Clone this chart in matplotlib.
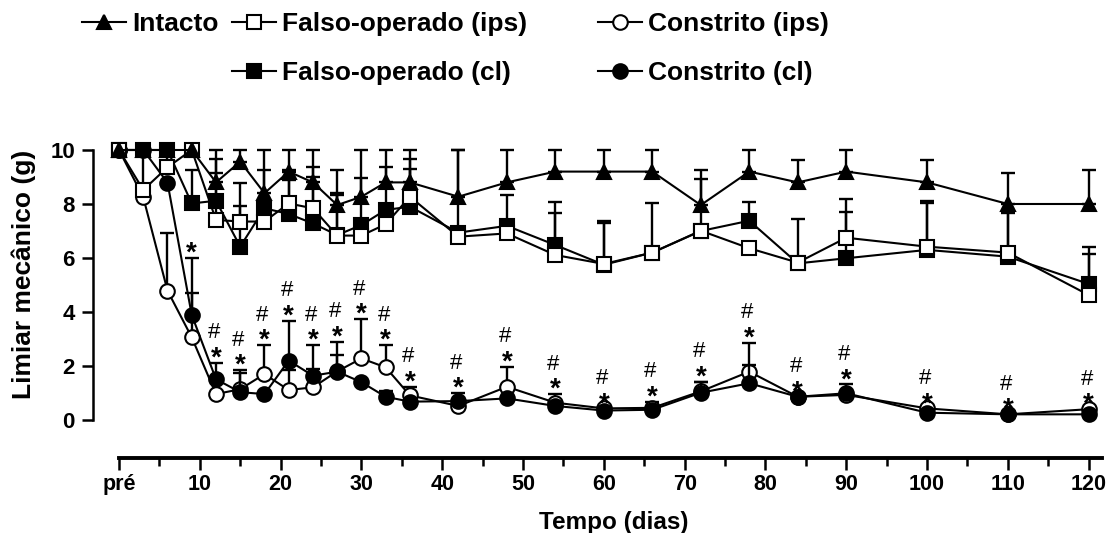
import matplotlib.pyplot as plt
import numpy as np

plt.rcParams['font.family'] = ['Liberation Sans', 'DejaVu Sans']
plt.rcParams['font.weight'] = 'bold'

# dias de avaliação (0 = pré)
dias = [0, 3, 6, 9, 12, 15, 18, 21, 24, 27, 30, 33, 36, 42, 48, 54, 60, 66, 72, 78, 84, 90, 100, 110, 120]
rotulos_x = ['pré', '10', '20', '30', '40', '50', '60', '70', '80', '90', '100', '110', '120']

# médias (g) e EPM (só a barra superior)
intacto = [10, 10, 10, 10, 8.8, 9.57, 8.4, 9.2, 8.8, 7.96, 8.27, 8.8, 8.8, 8.27, 8.8, 9.2, 9.2, 9.2, 7.96, 9.2, 8.8, 9.2, 8.8, 8.0, 8.0]
intacto_epm = [0, 0, 0, 0, 1.2, 0.43, 1.6, 0.8, 1.2, 1.3, 1.73, 1.2, 1.2, 1.73, 1.2, 0.8, 0.8, 0.8, 1.3, 0.8, 0.83, 0.8, 0.83, 1.13, 1.26]

falso_ips = [10, 8.52, 9.36, 10, 7.41, 7.35, 7.35, 8.02, 7.84, 6.83, 6.83, 7.25, 8.27, 6.79, 6.91, 6.11, 5.78, 6.2, 7.01, 6.36, 5.83, 6.75, 6.42, 6.2, 4.63]
falso_ips_epm = [0, 1.48, 0.64, 0, 2.24, 1.42, 0, 1.24, 1.54, 1.57, 0, 0, 1.38, 0, 0, 1.57, 1.59, 1.82, 1.92, 0, 1.6, 1.42, 1.7, 1.54, 1.52]

falso_cl = [10, 10, 10, 8.02, 8.12, 6.42, 7.84, 7.63, 7.28, 6.85, 7.22, 7.78, 7.9, 6.94, 7.19, 6.48, 5.75, 6.2, 7.0, 7.38, 5.8, 5.99, 6.3, 6.05, 5.04]
falso_cl_epm = [0, 0, 0, 1.24, 1.02, 1.51, 1.42, 1.26, 1.72, 1.48, 1.73, 1.58, 1.38, 3.06, 1.14, 1.61, 1.53, 0, 0, 0.71, 0, 1.73, 1.75, 1.63, 1.36]

constrito_ips = [10, 8.25, 4.79, 3.06, 0.96, 1.14, 1.70, 1.11, 1.21, 1.8, 2.28, 1.95, 0.91, 0.52, 1.23, 0.64, 0.43, 0.45, 1.06, 1.79, 0.86, 0.93, 0.43, 0.21, 0.40]
constrito_ips_epm = [0, 0, 2.15, 1.66, 0, 0.61, 1.08, 0.74, 0.69, 0.6, 1.46, 0.83, 0.32, 0, 0.75, 0.32, 0, 0.23, 0.36, 1.07, 0, 0, 0, 0, 0]

constrito_cl = [10, 10, 8.79, 3.89, 1.51, 1.03, 0.96, 2.2, 1.64, 1.79, 1.40, 0.86, 0.68, 0.70, 0.80, 0.52, 0.35, 0.38, 1.01, 1.36, 0.86, 0.99, 0.27, 0.21, 0.21]
constrito_cl_epm = [0, 0, 0, 2.1, 0.61, 0.82, 0, 1.48, 1.14, 1.11, 0, 0.23, 0, 0.29, 0, 0, 0, 0, 0.41, 0.68, 0, 0.33, 0, 0, 0]

fig = plt.figure(figsize=(11.06, 5.33), dpi=100)
ax = fig.add_axes([93 / 1106, (533 - 458) / 533, (1104 - 93) / 1106, (458 - 140) / 533])

x = np.array(dias)


def serie(media, epm, marker, face, z, label):
    media = np.array(media, dtype=float)
    epm = np.array(epm, dtype=float)
    m = epm > 0
    ax.errorbar(x[m], media[m], yerr=[np.zeros(m.sum()), epm[m]], fmt='none',
                ecolor='black', elinewidth=1.7, capsize=5.2, capthick=1.7, zorder=z)
    linha, = ax.plot(x, media, color='black', lw=1.5, marker=marker, ms=10.5,
                     mfc=face, mec='black', mew=1.5, zorder=z + 0.5, label=label)
    return linha


h_cips = serie(constrito_ips, constrito_ips_epm, 'o', 'white', 1, 'Constrito (ips)')
h_ccl = serie(constrito_cl, constrito_cl_epm, 'o', 'black', 2, 'Constrito (cl)')
h_fcl = serie(falso_cl, falso_cl_epm, 's', 'black', 3, 'Falso-operado (cl)')
h_fips = serie(falso_ips, falso_ips_epm, 's', 'white', 4, 'Falso-operado (ips)')
h_int = serie(intacto, intacto_epm, '^', 'black', 5, 'Intacto')

# * e # acima da maior barra dos grupos constritos
for i, d in enumerate(dias):
    if d < 9:
        continue
    topo = max(constrito_ips[i] + constrito_ips_epm[i], constrito_cl[i] + constrito_cl_epm[i])
    ax.annotate('*', (d, topo), xytext=(0, -2), textcoords='offset points',
                ha='center', va='baseline', fontsize=20, fontweight='bold')
    if d >= 12:
        ax.annotate('#', (d, topo), xytext=(-1.5, 17.5), textcoords='offset points',
                    ha='center', va='baseline', fontsize=16, fontweight='normal')

ax.set_xlim(-3.22, 121.9)
ax.set_ylim(-(458 - 420) / 27, 10.37)
ax.set_xticks(range(0, 121, 10))
ax.set_xticklabels(rotulos_x)
ax.set_xticks(range(5, 120, 10), minor=True)
ax.set_yticks([0, 2, 4, 6, 8, 10])
ax.tick_params(axis='x', which='major', length=8.5, width=1.8, labelsize=15.5, pad=3)
ax.tick_params(axis='x', which='minor', length=5.5, width=1.8)
ax.tick_params(axis='y', length=8, width=1.8, labelsize=16, pad=5)

for s in ['top', 'right']:
    ax.spines[s].set_visible(False)
ax.spines['left'].set_bounds(0, 10)
ax.spines['left'].set_linewidth(1.8)
ax.spines['bottom'].set_bounds(0, 121.6)
ax.spines['bottom'].set_linewidth(2.8)

fig.text(614 / 1106, 1 - 522 / 533, 'Tempo (dias)', ha='center', va='center', fontsize=17.5, fontweight='bold')
fig.text(24 / 1106, 1 - 274 / 533, 'Limiar mecânico (g)', ha='center', va='center',
         rotation=90, fontsize=19, fontweight='bold')

# legenda em três blocos
estilo = dict(loc='upper left', frameon=False, fontsize=19, handlelength=1.65,
              handletextpad=0.25, labelspacing=0.95, borderpad=0, borderaxespad=0)
topo_leg = 1 - 12 / 533
fig.legend(handles=[h_int], labels=['Intacto'], bbox_to_anchor=(82 / 1106, topo_leg), **estilo)
fig.legend(handles=[h_fips, h_fcl], labels=['Falso-operado (ips)', 'Falso-operado (cl)'],
           bbox_to_anchor=(232 / 1106, topo_leg), **estilo)
fig.legend(handles=[h_cips, h_ccl], labels=['Constrito (ips)', 'Constrito (cl)'],
           bbox_to_anchor=(598 / 1106, topo_leg), **estilo)

fig.savefig('out.png', dpi=100)
